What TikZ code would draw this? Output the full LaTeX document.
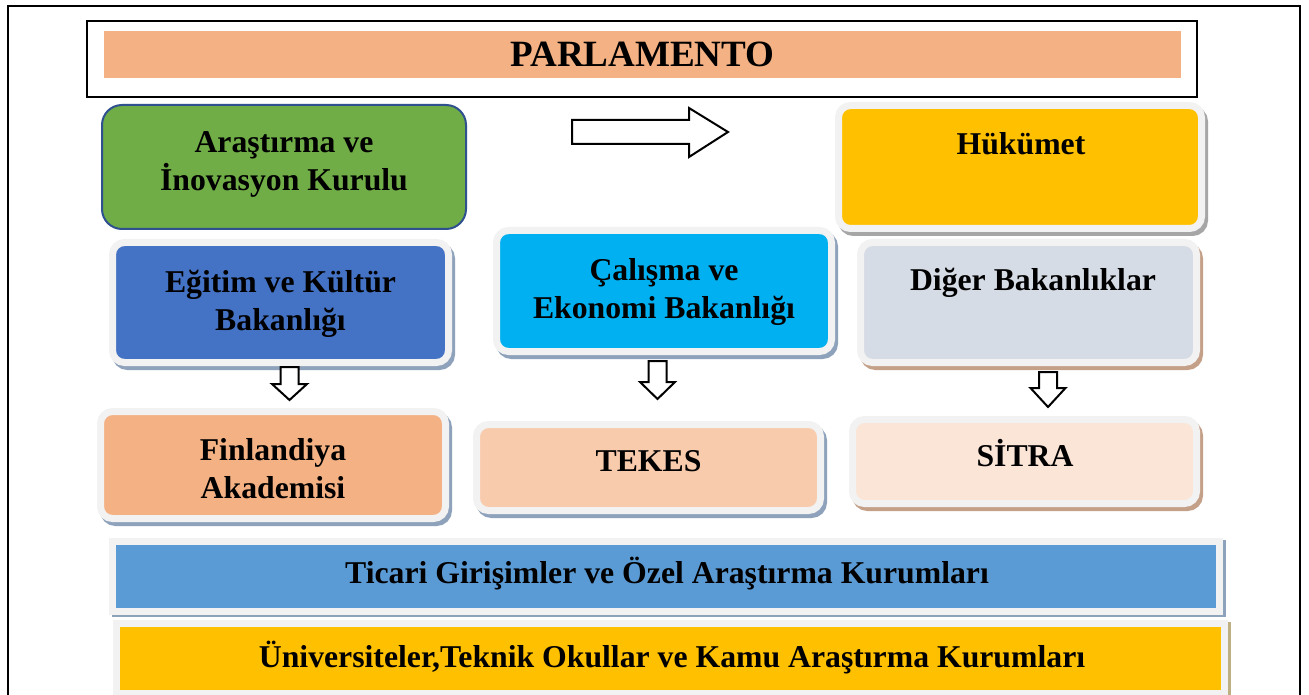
\documentclass[tikz,border=0pt]{standalone}
\usepackage{fontspec}
\setmainfont{Liberation Serif}

\definecolor{rim}{RGB}{242,242,242}
\definecolor{parlorange}{RGB}{244,177,131}
\definecolor{kurulgreen}{RGB}{112,173,71}
\definecolor{kurulborder}{RGB}{47,82,143}
\definecolor{hukumetfill}{RGB}{255,192,0}
\definecolor{egitimfill}{RGB}{68,114,196}
\definecolor{calismafill}{RGB}{0,176,240}
\definecolor{digerfill}{RGB}{214,220,229}
\definecolor{akademifill}{RGB}{244,177,131}
\definecolor{tekesfill}{RGB}{248,203,173}
\definecolor{sitrafill}{RGB}{251,229,214}
\definecolor{ticarifill}{RGB}{91,155,213}
\definecolor{univfill}{RGB}{255,192,0}
\definecolor{shadowblue}{RGB}{143,162,188}
\definecolor{shadowgray}{RGB}{166,166,166}
\definecolor{shadowbrown}{RGB}{197,160,136}
\definecolor{shadowtan}{RGB}{191,176,132}

\begin{document}
\begin{tikzpicture}[x=0.75pt,y=-0.75pt,
    every node/.style={inner sep=0pt,font=\bfseries\fontsize{23.8}{28.5}\selectfont},
    box/.style 2 args={draw=rim,line width=5.25pt,rounded corners=9pt,fill=#1,
      preaction={draw=#2,fill=#2,transform canvas={xshift=2.25pt,yshift=-3pt}}},
    bar/.style 2 args={draw=rim,line width=5.25pt,fill=#1,
      preaction={draw=#2,fill=#2,transform canvas={xshift=2.25pt,yshift=-1.5pt}}},
    lbl/.style={anchor=base,align=center},
    blockarrow/.style={draw=black,line width=1.5pt,fill=white,line join=miter}]

    %page and outer frame
    \clip (0,0) rectangle (1309,695);
    \fill[white] (0,0) rectangle (1309,695);
    \draw[line width=1.5pt] (8,6) rectangle (1300,720);

    %parliament on top
    \node[draw,line width=1.9pt,minimum width=832.5pt,minimum height=57pt] (parlFrame) at (642,59) {};
    \node[fill=parlorange,minimum width=807.75pt,minimum height=35.25pt,
      font=\bfseries\fontsize{27.8}{33}\selectfont] (parl) at (642.5,54.5) {PARLAMENTO};

    %council and government
    \node[draw=kurulborder,line width=1.5pt,fill=kurulgreen,rounded corners=15pt,
      minimum width=273pt,minimum height=93pt] (kurul) at (284,167) {};
    \node[lbl] (kurulTxt) at (284,191) {Araştırma ve\\İnovasyon Kurulu};

    \draw[blockarrow] (572,120) -- (689,120) -- (689,108) -- (728,132)
      -- (689,157) -- (689,144) -- (572,144) -- cycle;

    \node[box={hukumetfill}{shadowgray},minimum width=272.25pt,minimum height=92.25pt] (hukumet) at (1020,167) {};
    \node[lbl] (hukumetTxt) at (1021,155) {Hükümet};

    %ministries (base of two-line labels is the last line)
    \node[box={egitimfill}{shadowblue},minimum width=252pt,minimum height=90pt] (egitim) at (280.5,302.5) {};
    \node[lbl] (egitimTxt) at (280.5,330) {Eğitim ve Kültür\\Bakanlığı};

    \node[box={calismafill}{shadowblue},minimum width=251.25pt,minimum height=90.75pt] (calisma) at (664,291) {};
    \node[lbl] (calismaTxt) at (664,318) {Çalışma ve\\Ekonomi Bakanlığı};

    \node[box={digerfill}{shadowbrown},minimum width=252pt,minimum height=90pt] (diger) at (1028.5,302.5) {};
    \node[lbl] (digerTxt) at (1033,291) {Diğer Bakanlıklar};

    %down arrows
    \foreach \cx/\yt/\yh/\yp in {289.5/367/384/400, 657.5/361/382/399, 1048/372/388/407}
      \draw[blockarrow] (\cx-9,\yt) -- (\cx+9,\yt) -- (\cx+9,\yh) -- (\cx+17.5,\yh)
        -- (\cx,\yp) -- (\cx-17.5,\yh) -- (\cx-9,\yh) -- cycle;

    %funding agencies
    \node[box={akademifill}{shadowblue},minimum width=258.75pt,minimum height=80.25pt] (akademi) at (273,465) {};
    \node[lbl] (akademiTxt) at (273,498) {Finlandiya\\Akademisi};

    \node[box={tekesfill}{shadowblue},minimum width=258pt,minimum height=64.5pt] (tekes) at (648.5,467.5) {};
    \node[lbl] (tekesTxt) at (648.5,471) {TEKES};

    \node[box={sitrafill}{shadowbrown},minimum width=258pt,minimum height=63pt] (sitra) at (1024.5,461.5) {};
    \node[lbl] (sitraTxt) at (1025,466) {SİTRA};

    %bottom bars
    \node[bar={ticarifill}{shadowblue},minimum width=830.25pt,minimum height=52.5pt] (ticari) at (666,576.5) {};
    \node[lbl] (ticariTxt) at (667,583) {Ticari Girişimler ve Özel Araştırma Kurumları};

    \node[bar={univfill}{shadowtan},minimum width=831pt,minimum height=52.5pt] (univ) at (670.5,658.5) {};
    \node[lbl] (univTxt) at (672,667) {Üniversiteler,Teknik Okullar ve Kamu Araştırma Kurumları};

  \end{tikzpicture}
\end{document}
